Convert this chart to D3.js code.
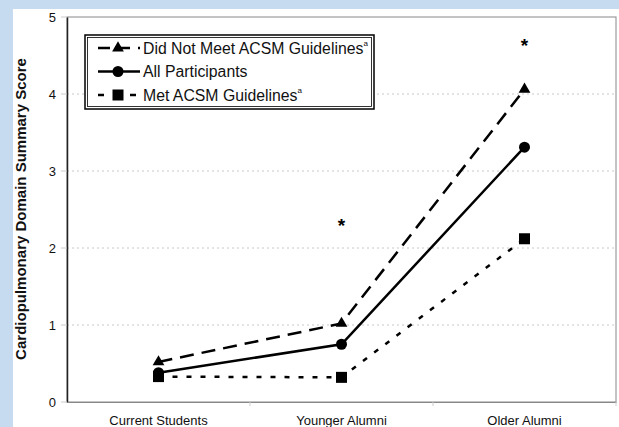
<!DOCTYPE html>
<html>
<head>
<meta charset="utf-8">
<script src="https://cdn.jsdelivr.net/npm/d3@7"></script>
<style>
  body { margin: 0; background: #c6dbf0; }
  svg { display: block; font-family: "Liberation Sans", Arial, sans-serif; }
  .tick text { font-size: 13px; fill: #111; }
</style>
</head>
<body>
<svg id="chart" width="619" height="427"></svg>
<script>
// chart data
const groups = ["Current Students", "Younger Alumni", "Older Alumni"];
const didNotMeet = [0.52, 1.02, 4.06];
const allParticipants = [0.38, 0.75, 3.31];
const metGuidelines = [0.33, 0.32, 2.12];
const starValues = [null, 2.32, 4.66];
const yTicks = [0, 1, 2, 3, 4, 5];

const margin = {top: 17, right: 3, bottom: 25, left: 67};
const svg = d3.select("#chart");
const width = 619 - margin.left - margin.right;
const height = 427 - margin.top - margin.bottom;

// white panel over the blue page
svg.append("rect").attr("x", 13).attr("y", 9).attr("width", 606).attr("height", 418).attr("fill", "#fff");

const chart = svg.append("g").attr("transform", "translate(" + margin.left + "," + margin.top + ")");

const x = d3.scaleBand().domain(groups).range([0, width]);
const y = d3.scaleLinear().domain([0, 5]).range([height, 0]);
const cx = d => x(d) + x.bandwidth() / 2;

// gridlines
chart.append("g").selectAll("line").data(yTicks.filter(t => t > 0 && t < 5)).join("line")
    .attr("x1", 0).attr("x2", width)
    .attr("y1", d => y(d)).attr("y2", d => y(d))
    .attr("stroke", "#c8c8c8").attr("stroke-width", 1).attr("stroke-dasharray", "2,3");

// plot frame
chart.append("rect").attr("x", 0).attr("y", 0).attr("width", width).attr("height", height)
    .attr("fill", "none").attr("stroke", "#888").attr("stroke-width", 1);

// axes
const yAxis = chart.append("g").call(d3.axisLeft(y).tickValues(yTicks).tickSize(0).tickPadding(11).tickFormat(d3.format("d")));
yAxis.select(".domain").attr("stroke", "#222").attr("stroke-width", 1.5);
yAxis.selectAll(".tick line").remove();
chart.append("g").selectAll("line").data(yTicks).join("line")
    .attr("x1", -6).attr("x2", 0).attr("y1", d => y(d)).attr("y2", d => y(d))
    .attr("stroke", "#ccc");

const xAxis = chart.append("g").attr("transform", "translate(0," + height + ")")
    .call(d3.axisBottom(x).tickSize(0).tickPadding(14));
xAxis.select(".domain").attr("stroke", "#888");
chart.append("g").selectAll("line").data(groups.slice(1).concat(["end"])).join("line")
    .attr("x1", (d, i) => x.bandwidth() * (i + 1)).attr("x2", (d, i) => x.bandwidth() * (i + 1))
    .attr("y1", height).attr("y2", height + 4).attr("stroke", "#ccc");

// y title
svg.append("text")
    .attr("transform", "translate(26," + 209 + ") rotate(-90)")
    .attr("text-anchor", "middle")
    .attr("font-size", 15).attr("font-weight", "bold").attr("fill", "#111")
    .text("Cardiopulmonary Domain Summary Score");

const series = [
  {name: "Did Not Meet ACSM Guidelines", sup: "a", values: didNotMeet, dash: "14,8", marker: "triangle"},
  {name: "All Participants", sup: "", values: allParticipants, dash: null, marker: "circle"},
  {name: "Met ACSM Guidelines", sup: "a", values: metGuidelines, dash: "5,9", marker: "square"}
];

const line = d3.line().x((d, i) => cx(groups[i])).y(d => y(d));

function drawMarker(g, type, px, py) {
  if (type === "triangle") {
    g.append("path").attr("d", d3.symbol(d3.symbolTriangle, 60)()).attr("transform", "translate(" + px + "," + py + ")").attr("fill", "#000");
  } else if (type === "circle") {
    g.append("circle").attr("cx", px).attr("cy", py).attr("r", 5.5).attr("fill", "#000");
  } else {
    g.append("rect").attr("x", px - 5.5).attr("y", py - 5.5).attr("width", 11).attr("height", 11).attr("fill", "#000");
  }
}

series.forEach(s => {
  chart.append("path").datum(s.values)
      .attr("d", line).attr("fill", "none").attr("stroke", "#000").attr("stroke-width", 2.5)
      .attr("stroke-dasharray", s.dash);
  s.values.forEach((v, i) => drawMarker(chart, s.marker, cx(groups[i]), y(v)));
});

// significance stars
chart.append("g").selectAll("text").data(starValues.map((v, i) => ({v, g: groups[i]})).filter(d => d.v !== null)).join("text")
    .attr("x", d => cx(d.g)).attr("y", d => y(d.v) + 9)
    .attr("text-anchor", "middle").attr("font-size", 19).attr("font-weight", "bold").text("*");

// legend
const legend = svg.append("g").attr("transform", "translate(85,35)");
legend.append("rect").attr("x", 0).attr("y", 0).attr("width", 289).attr("height", 74)
    .attr("fill", "#fff").attr("stroke", "#000").attr("stroke-width", 1.5);
legend.append("rect").attr("x", 2.5).attr("y", 2.5).attr("width", 284).attr("height", 69)
    .attr("fill", "none").attr("stroke", "#000").attr("stroke-width", 0.8);
series.forEach((s, i) => {
  const ly = 13 + i * 23.5;
  const dashes = s.dash === null ? null : (s.marker === "square" ? "6,10" : "12,8");
  legend.append("line").attr("x1", 13).attr("x2", 55).attr("y1", ly).attr("y2", ly)
      .attr("stroke", "#000").attr("stroke-width", 2.5).attr("stroke-dasharray", dashes);
  drawMarker(legend, s.marker, 33, ly);
  const t = legend.append("text").attr("x", 58).attr("y", ly + 5.5).attr("font-size", 15.8).attr("fill", "#111").text(s.name);
  if (s.sup) t.append("tspan").attr("font-size", 8).attr("dy", -8).text(s.sup);
});
</script>
</body>
</html>
